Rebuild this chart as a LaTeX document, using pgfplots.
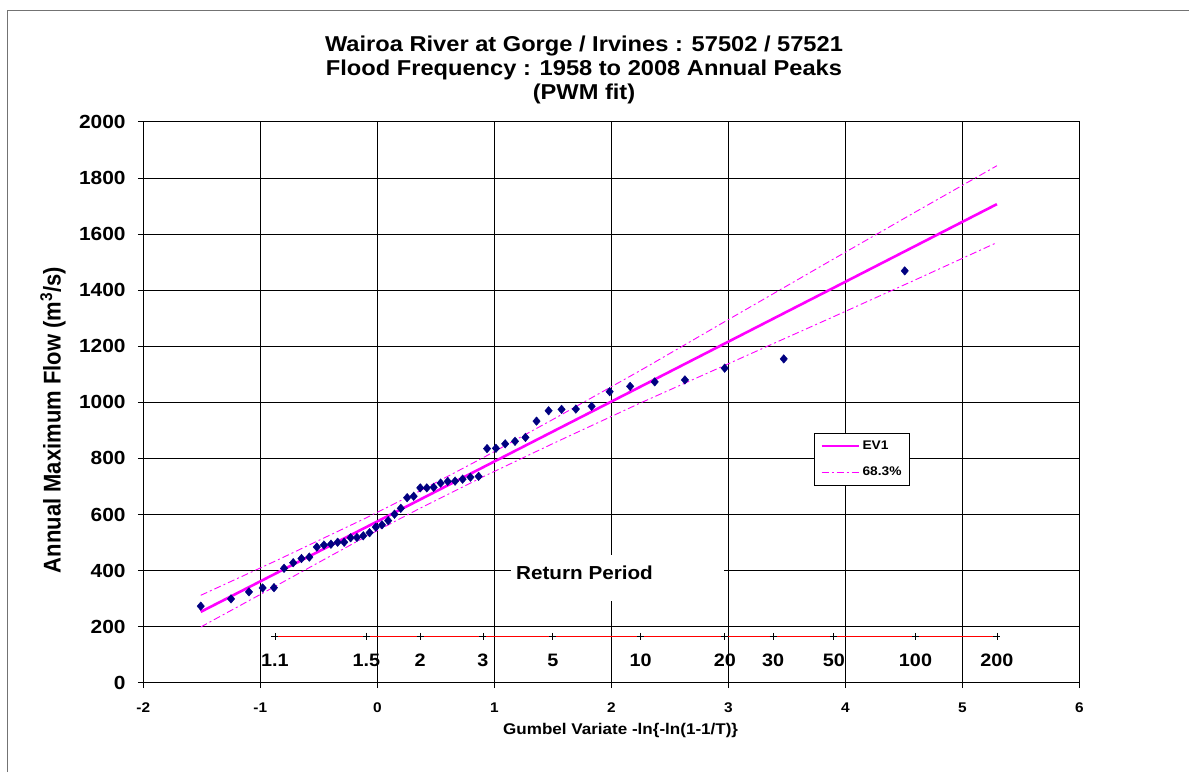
\documentclass[border=0pt]{standalone}
\usepackage{fontspec}
\setmainfont{Liberation Sans}[FakeStretch=1.1]
\newfontfamily\plainsans{Liberation Sans}
\usepackage{graphicx}
\usepackage{pgfplots}
\pgfplotsset{compat=1.18}
\usepackage{pgfplotstable}

\definecolor{peakblue}{RGB}{0,0,128}
\definecolor{fitmag}{RGB}{255,0,255}
\definecolor{scalered}{RGB}{255,0,0}

% Annual peaks 1958-2008, Gringorten plotting positions (Gumbel reduced variate)
\pgfplotstableread{
x v
-1.509 273
-1.250 299
-1.097 324
-0.980 338
-0.883 339
-0.797 408
-0.719 428
-0.648 443
-0.581 448
-0.517 484
-0.456 491
-0.396 494
-0.339 501
-0.283 501
-0.228 517
-0.174 518
-0.120 524
-0.066 535
-0.013 555
0.040 563
0.093 578
0.147 601
0.201 622
0.255 660
0.311 665
0.367 695
0.423 695
0.482 697
0.541 712
0.602 718
0.665 719
0.729 726
0.796 733
0.866 736
0.938 835
1.014 836
1.093 852
1.177 861
1.266 875
1.361 933
1.464 970
1.575 975
1.697 976
1.832 986
1.986 1038
2.161 1057
2.371 1073
2.629 1080
2.969 1122
3.474 1155
4.508 1469
}\peaks

% EV1 (PWM) fit with 68.3% confidence band
\pgfplotstableread{
x ev1 upper lower
-1.509 252.7 311.7 198.7
-0.875 388.2 433.2 343.2
-0.094 555.1 588.1 522.1
0.367 653.6 684.6 622.6
0.903 768.2 802.2 734.2
1.500 895.8 938.8 852.8
2.250 1056.0 1114.0 998.0
2.970 1209.9 1287.9 1131.9
3.384 1298.4 1387.4 1209.4
3.902 1409.0 1512.0 1306.0
4.600 1558.2 1679.2 1437.2
5.296 1707.0 1844.0 1570.0
}\fit

% Return period scale
\pgfplotstableread{
x y ylab label
-0.875 165 80.8 1.1
-0.094 165 80.8 1.5
0.367 165 80.8 2
0.903 165 80.8 3
1.500 165 80.8 5
2.250 165 80.8 10
2.970 165 80.8 20
3.384 165 80.8 30
3.902 165 80.8 50
4.600 165 80.8 100
5.296 165 80.8 200
}\retper

\begin{document}
\begin{tikzpicture}[x=1pt,y=1pt]
\path[use as bounding box] (0,0) rectangle (1189,772);
\draw[black!55, line width=1.2pt] (7.3,0) -- (7.3,761.3) -- (1189,761.3);
\node[align=center, font=\bfseries\fontsize{21.5}{23.8}\selectfont] at (584,702)
  {Wairoa River at Gorge / Irvines : 57502 / 57521\\Flood Frequency : 1958 to 2008 Annual Peaks\\(PWM fit)};
\begin{axis}[
  at={(143.3pt,89.3pt)}, anchor=south west,
  scale only axis, width=936pt, height=560.7pt,
  xmin=-2, xmax=6, ymin=0, ymax=2000,
  xtick={-2,...,6}, ytick={0,200,...,2000},
  grid=major, major grid style={black, line width=1pt},
  axis line style={black, line width=1pt},
  tick align=outside, xtick pos=bottom, ytick pos=left,
  major tick length=5.5pt, tick style={black, line width=1pt},
  /pgf/number format/assume math mode=true,
  /pgf/number format/1000 sep={},
  xticklabel style={font=\bfseries\fontsize{14}{14}\selectfont, anchor=north, inner sep=0pt, yshift=-14pt},
  yticklabel style={font=\bfseries\fontsize{19}{19}\selectfont, anchor=east, inner sep=0pt, xshift=-12pt},
  xlabel={Gumbel Variate -ln\{-ln(1-1/T)\}},
  ylabel={\scalebox{1.1}[1]{\rotatebox{90}{\plainsans\bfseries\fontsize{22}{22}\selectfont Annual Maximum Flow (m\textsuperscript{3}/s)}}},
  every axis x label/.style={at={(axis description cs:0.51,-0.0844)}, anchor=center, font=\bfseries\fontsize{15.5}{15.5}\selectfont},
  every axis y label/.style={at={(axis description cs:-0.0965,0.4685)}, anchor=center},
  legend style={at={(axis description cs:0.7166,0.4459)}, anchor=north west, draw=black, fill=white,
    font=\bfseries\fontsize{12.5}{12.5}\selectfont, inner xsep=6pt, inner ysep=6pt, row sep=12pt},
  legend cell align=left,
  legend image code/.code={\draw[#1] (0pt,0pt) -- (37.7pt,0pt);},
]
\addplot[only marks, mark=diamond*, mark size=4.3pt, mark options={fill=peakblue, draw=peakblue, xscale=1.15}, forget plot]
  table[x=x, y=v] {\peaks};
\addplot[fitmag, line width=2.6pt] table[x=x, y=ev1] {\fit};
\addplot[fitmag, line width=0.9pt, dash pattern=on 7pt off 3pt on 2pt off 3pt] table[x=x, y=upper] {\fit};
\addplot[fitmag, line width=0.9pt, dash pattern=on 7pt off 3pt on 2pt off 3pt, forget plot] table[x=x, y=lower] {\fit};
\addplot[scalered, line width=1pt, mark=+, mark size=3.5pt, mark options={black, line width=0.8pt, solid}, forget plot]
  table[x=x, y=y] {\retper};
\addplot[draw=none, forget plot, nodes near coords, point meta=explicit symbolic,
  every node near coord/.style={anchor=center, inner sep=0pt, font=\bfseries\fontsize{18}{18}\selectfont}]
  table[x=x, y=ylab, meta=label] {\retper};
\fill[white] (axis cs:1.14,292) rectangle (axis cs:2.963,454);
\node[anchor=west, inner sep=0pt, font=\bfseries\fontsize{18.8}{18.8}\selectfont] at (axis cs:1.185,391) {Return Period};
\legend{EV1, 68.3\%}
\end{axis}
\end{tikzpicture}
\end{document}
